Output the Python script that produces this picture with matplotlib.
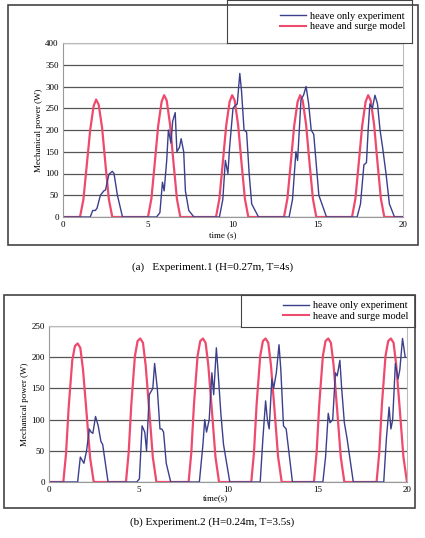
import matplotlib
matplotlib.use('Agg')
import matplotlib.pyplot as plt
from matplotlib.lines import Line2D

plt.rcParams['font.family'] = ['Liberation Serif', 'DejaVu Serif']

# Experiment 1 (H=0.27m, T=4s)
t_model1 = [0, 1.0, 1.2, 1.4, 1.6, 1.8, 1.95, 2.1, 2.3, 2.5, 2.7, 2.9,
            5.0, 5.2, 5.4, 5.6, 5.8, 5.95, 6.1, 6.3, 6.5, 6.7, 6.9,
            9.0, 9.2, 9.4, 9.6, 9.8, 9.95, 10.1, 10.3, 10.5, 10.7, 10.9,
            13.0, 13.2, 13.4, 13.6, 13.8, 13.95, 14.1, 14.3, 14.5, 14.7, 14.9,
            17.0, 17.2, 17.4, 17.6, 17.8, 17.95, 18.1, 18.3, 18.5, 18.7, 18.9, 20]
p_model1 = [0, 0, 40, 120, 200, 255, 270, 258, 205, 120, 40, 0,
            0, 42, 125, 210, 265, 280, 268, 212, 125, 42, 0,
            0, 42, 125, 210, 265, 280, 268, 212, 125, 42, 0,
            0, 42, 125, 210, 265, 280, 268, 212, 125, 42, 0,
            0, 42, 125, 210, 265, 280, 268, 212, 125, 42, 0, 0]
t_exp1 = [0, 1.6, 1.75, 1.9, 2.0, 2.2, 2.4, 2.5, 2.7, 2.9, 3.0, 3.2, 3.5,
          5.5, 5.7, 5.85, 5.95, 6.1, 6.2, 6.35, 6.45, 6.6, 6.7, 6.85, 6.95, 7.1, 7.2, 7.4, 7.7,
          9.2, 9.4, 9.55, 9.7, 9.8, 10.0, 10.1, 10.25, 10.4, 10.5, 10.65, 10.8, 10.95, 11.1, 11.5,
          13.3, 13.5, 13.7, 13.8, 13.9, 14.0, 14.15, 14.3, 14.45, 14.6, 14.75, 14.9, 15.05, 15.5,
          17.3, 17.5, 17.7, 17.85, 17.95, 18.05, 18.2, 18.35, 18.5, 18.65, 18.8, 19.0, 19.2, 19.5, 20]
p_exp1 = [0, 0, 15, 15, 20, 50, 60, 62, 98, 105, 100, 50, 0,
          0, 10, 80, 60, 130, 200, 170, 220, 240, 150, 160, 180, 150, 60, 15, 0,
          0, 40, 130, 100, 160, 250, 255, 260, 330, 290, 200, 195, 100, 30, 0,
          0, 40, 150, 130, 200, 270, 280, 300, 260, 200, 190, 120, 50, 0,
          0, 30, 120, 125, 200, 260, 250, 280, 260, 200, 160, 100, 30, 0, 0]

# Experiment 2 (H=0.24m, T=3.5s)
t_model2 = [0, 0.8, 0.95, 1.1, 1.3, 1.45, 1.6, 1.75, 1.9, 2.1, 2.3, 2.5,
            4.3, 4.45, 4.6, 4.8, 4.95, 5.1, 5.25, 5.4, 5.6, 5.8, 6.0,
            7.8, 7.95, 8.1, 8.3, 8.45, 8.6, 8.75, 8.9, 9.1, 9.3, 9.5,
            11.3, 11.45, 11.6, 11.8, 11.95, 12.1, 12.25, 12.4, 12.6, 12.8, 13.0,
            14.8, 14.95, 15.1, 15.3, 15.45, 15.6, 15.75, 15.9, 16.1, 16.3, 16.5,
            18.3, 18.45, 18.6, 18.8, 18.95, 19.1, 19.25, 19.4, 19.6, 19.8, 20.0]
p_model2 = [0, 0, 45, 120, 195, 218, 222, 215, 180, 110, 38, 0,
            0, 47, 125, 202, 226, 230, 223, 187, 115, 40, 0,
            0, 47, 125, 202, 226, 230, 223, 187, 115, 40, 0,
            0, 47, 125, 202, 226, 230, 223, 187, 115, 40, 0,
            0, 47, 125, 202, 226, 230, 223, 187, 115, 40, 0,
            0, 47, 125, 202, 226, 230, 223, 187, 115, 40, 0]
t_exp2 = [0, 1.6, 1.75, 1.85, 1.95, 2.1, 2.25, 2.35, 2.45, 2.6, 2.75, 2.9, 3.0, 3.3,
          4.9, 5.05, 5.2, 5.35, 5.45, 5.6, 5.7, 5.8, 5.9, 6.05, 6.2, 6.3, 6.4, 6.55, 6.8,
          8.4, 8.6, 8.7, 8.8, 8.95, 9.1, 9.2, 9.35, 9.45, 9.6, 9.75, 10.1,
          11.8, 11.95, 12.1, 12.2, 12.3, 12.45, 12.55, 12.7, 12.85, 12.95, 13.1, 13.25, 13.6,
          15.3, 15.45, 15.6, 15.7, 15.85, 16.0, 16.1, 16.25, 16.35, 16.5, 16.65, 17.0,
          18.7, 18.85, 19.0, 19.1, 19.2, 19.35, 19.5, 19.6, 19.75, 19.9]
p_exp2 = [0, 0, 40, 35, 30, 50, 85, 80, 78, 105, 90, 65, 60, 0,
          0, 5, 90, 80, 50, 140, 145, 150, 190, 150, 85, 85, 80, 30, 0,
          0, 60, 100, 80, 100, 175, 140, 215, 175, 110, 60, 0,
          0, 70, 130, 100, 85, 165, 150, 175, 220, 180, 90, 85, 0,
          0, 40, 110, 95, 100, 175, 170, 195, 150, 95, 70, 0,
          0, 70, 120, 85, 100, 190, 165, 180, 230, 200]

BLUE = '#3b3f8c'
RED = '#ee4a6e'

fig = plt.figure(figsize=(4.25, 5.38), dpi=100)


def panel(box, axrect, legrect, t_e, p_e, t_m, p_m, ymax, xlab, caption, capy):
    # border around the whole panel
    fig.add_artist(plt.Rectangle((box[0], box[1]), box[2], box[3], transform=fig.transFigure,
                                 fill=False, lw=1.2, ec='#444444'))
    ax = fig.add_axes(axrect)
    ax.plot(t_m, p_m, color=RED, lw=1.6)
    ax.plot(t_e, p_e, color=BLUE, lw=1.0)
    ax.set_xlim(0, 20)
    ax.set_ylim(0, ymax)
    ax.set_xticks([0, 5, 10, 15, 20])
    ax.set_yticks(range(0, ymax + 1, 50))
    ax.tick_params(labelsize=6.5, length=0, pad=3)
    ax.grid(axis='y', color='#555555', lw=0.9)
    for s in ['top', 'right']:
        ax.spines[s].set_color('#bbbbbb')
    for s in ['left', 'bottom']:
        ax.spines[s].set_color('#999999')
    ax.set_ylabel('Mechanical power (W)', fontsize=6.5, labelpad=2)
    ax.text(0.43, -0.08, xlab, transform=ax.transAxes, fontsize=6.5, va='top')
    lax = fig.add_axes(legrect)
    lax.set_xticks([])
    lax.set_yticks([])
    for s in lax.spines.values():
        s.set_color('#444444')
    lax.legend([Line2D([], [], color=BLUE, lw=1), Line2D([], [], color=RED, lw=1.5)],
               ['heave only experiment', 'heave and surge model'], loc='center right',
               frameon=False, fontsize=7.5, handlelength=2.5, borderpad=0.1,
               labelspacing=0.1, handletextpad=0.4)
    fig.text(0.5, capy, caption, ha='center', fontsize=8)
    return ax


W, H = 425, 538


def fr(x0, y0, x1, y1):
    return [x0 / W, 1 - y1 / H, (x1 - x0) / W, (y1 - y0) / H]


panel(fr(8, 5, 418, 245), fr(63, 43, 403, 217), fr(227, 0, 412, 43),
      t_exp1, p_exp1, t_model1, p_model1, 400, 'time (s)',
      '(a)   Experiment.1 (H=0.27m, T=4s)', 1 - 270 / H)
panel(fr(4, 295, 415, 508), fr(49, 326, 407, 482), fr(241, 295, 415, 327),
      t_exp2, p_exp2, t_model2, p_model2, 250, 'time(s)',
      '(b) Experiment.2 (H=0.24m, T=3.5s)', 1 - 525 / H)

plt.savefig('out.png', dpi=100)
